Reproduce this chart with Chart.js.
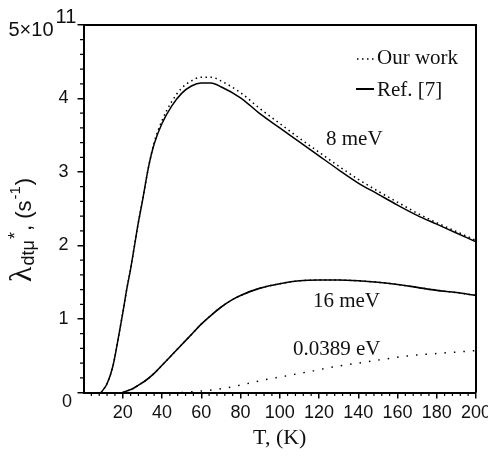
<!DOCTYPE html>
<html>
<head>
<meta charset="utf-8">
<script src="https://cdn.jsdelivr.net/npm/chart.js@4"></script>
<style>
  body { margin: 0; background: #fff; }
  canvas { display: block; }
</style>
</head>
<body>
<canvas id="rateChart" width="488" height="459"></canvas>
<script>
// temperatures (K) and rates (units of 1e11 s^-1)
const temps8 = [9, 12, 15, 18, 20, 22, 24, 26, 28, 30, 33, 36, 40, 45, 50, 55, 60, 65, 70, 80, 90, 100, 110, 120, 130, 140, 150, 160, 170, 180, 190, 200];
const ref8   = [0, 0.12, 0.36, 0.78, 1.08, 1.40, 1.68, 2.00, 2.32, 2.60, 3.05, 3.38, 3.66, 3.90, 4.07, 4.17, 4.21, 4.21, 4.16, 4.01, 3.79, 3.60, 3.41, 3.22, 3.03, 2.85, 2.70, 2.55, 2.41, 2.29, 2.17, 2.05];
const our8   = [0, 0.12, 0.36, 0.78, 1.08, 1.40, 1.68, 2.00, 2.32, 2.60, 3.05, 3.40, 3.70, 3.96, 4.14, 4.24, 4.29, 4.29, 4.24, 4.08, 3.86, 3.66, 3.46, 3.27, 3.08, 2.90, 2.74, 2.59, 2.44, 2.31, 2.19, 2.07];

const temps16 = [20, 22, 25, 28, 32, 36, 40, 45, 50, 55, 60, 65, 70, 75, 80, 90, 100, 110, 120, 130, 140, 150, 160, 170, 180, 190, 200];
const ref16   = [0, 0.02, 0.05, 0.10, 0.17, 0.26, 0.37, 0.51, 0.65, 0.79, 0.93, 1.05, 1.16, 1.25, 1.32, 1.42, 1.48, 1.52, 1.53, 1.53, 1.52, 1.50, 1.47, 1.43, 1.39, 1.36, 1.32];
const our16   = [0, 0.02, 0.05, 0.10, 0.17, 0.26, 0.37, 0.51, 0.65, 0.79, 0.93, 1.05, 1.16, 1.25, 1.32, 1.42, 1.48, 1.52, 1.53, 1.53, 1.52, 1.50, 1.47, 1.43, 1.39, 1.36, 1.32];

const temps389 = [50, 60, 70, 80, 90, 100, 110, 120, 130, 140, 150, 160, 170, 180, 190, 200];
const our389   = [0, 0.02, 0.05, 0.10, 0.16, 0.21, 0.26, 0.31, 0.36, 0.40, 0.44, 0.48, 0.51, 0.53, 0.55, 0.57];

const xTicks = [20, 40, 60, 80, 100, 120, 140, 160, 180, 200];
const yTicks = [1, 2, 3, 4];

const curveLabels = [
  { text: '8 meV', t: 138, v: 3.44 },
  { text: '16 meV', t: 134, v: 1.24 },
  { text: '0.0389 eV', t: 129, v: 0.58 }
];

const tickFont = "'Liberation Sans', Arial, sans-serif";
const serif = "'Liberation Serif', 'DejaVu Serif', serif";
const sans = "'Liberation Sans', Arial, sans-serif";

function pts(xs, ys) {
  return xs.map((x, i) => ({ x: x, y: ys[i] }));
}

const dotted = { borderDash: [1.5, 3.5], borderWidth: 1.5 };

const extras = {
  id: 'extras',
  afterDraw(chart) {
    const ctx = chart.ctx;
    const a = chart.chartArea;
    const x = chart.scales.x;
    const y = chart.scales.y;
    ctx.save();
    ctx.strokeStyle = '#000';

    // top and right frame
    ctx.lineWidth = 2;
    ctx.beginPath();
    ctx.moveTo(a.left, a.top);
    ctx.lineTo(a.right, a.top);
    ctx.lineTo(a.right, a.bottom);
    ctx.stroke();

    // minor ticks
    ctx.lineWidth = 1.2;
    ctx.beginPath();
    for (let t = 0; t <= 200; t += 4) {
      if (t % 20 === 0) continue;
      const px = x.getPixelForValue(t);
      ctx.moveTo(px, a.bottom);
      ctx.lineTo(px, a.bottom + 3.5);
    }
    for (let i = 0; i <= 25; i++) {
      if (i % 5 === 0) continue;
      const py = y.getPixelForValue(i * 0.2);
      ctx.moveTo(a.left - 3.5, py);
      ctx.lineTo(a.left, py);
    }
    ctx.stroke();

    // y labels "0" and "5x10^11"
    ctx.fillStyle = '#111';
    ctx.font = '18px ' + tickFont;
    ctx.textBaseline = 'middle';
    ctx.textAlign = 'center';
    ctx.fillText('0', a.left - 16.5, y.getPixelForValue(0) + 9.5);
    ctx.font = '20px ' + tickFont;
    ctx.textAlign = 'right';
    ctx.fillText('5\u00d710', a.left - 30, y.getPixelForValue(5) + 5.5);
    ctx.textAlign = 'left';
    ctx.fillText('11', a.left - 28, y.getPixelForValue(5) - 7.5);

    // curve labels
    ctx.font = '21px ' + serif;
    ctx.textAlign = 'center';
    curveLabels.forEach(l => {
      ctx.fillText(l.text, x.getPixelForValue(l.t), y.getPixelForValue(l.v));
    });

    // legend
    ctx.textAlign = 'left';
    ctx.fillText('Our work', a.right - 99, a.top + 33);
    ctx.fillText('Ref. [7]', a.right - 99, a.top + 65);
    ctx.lineWidth = 1.5;
    ctx.setLineDash([1.5, 3.5]);
    ctx.beginPath();
    ctx.moveTo(a.right - 119, a.top + 34);
    ctx.lineTo(a.right - 102, a.top + 34);
    ctx.stroke();
    ctx.setLineDash([]);
    ctx.lineWidth = 2;
    ctx.beginPath();
    ctx.moveTo(a.right - 120, a.top + 64);
    ctx.lineTo(a.right - 102, a.top + 64);
    ctx.stroke();

    // x title
    ctx.font = '22px ' + serif;
    ctx.textAlign = 'center';
    ctx.fillText('T, (K)', (a.left + a.right) / 2, 438);

    // y title, rotated, with sub/superscripts
    ctx.translate(31, 282);
    ctx.rotate(-Math.PI / 2);
    ctx.textAlign = 'left';
    ctx.textBaseline = 'alphabetic';
    const parts = [
      { s: '\u03bb', f: '32px ' + serif, dy: 0 },
      { s: 'dt\u03bc', f: '18px ' + sans, dy: 3 },
      { s: '*', f: '18px ' + sans, dy: -10 },
      { s: ', (s', f: '22px ' + sans, dy: 0 },
      { s: '-1', f: '15px ' + sans, dy: -11 },
      { s: ')', f: '22px ' + sans, dy: 0 }
    ];
    let cx = 0;
    parts.forEach(p => {
      ctx.font = p.f;
      ctx.fillText(p.s, cx, p.dy);
      cx += ctx.measureText(p.s).width + 1;
    });
    ctx.restore();
  }
};

new Chart(document.getElementById('rateChart'), {
  type: 'line',
  data: {
    datasets: [
      Object.assign({ label: 'Our work 8 meV', data: pts(temps8, our8) }, dotted),
      Object.assign({ label: 'Our work 16 meV', data: pts(temps16, our16) }, dotted),
      { label: 'Our work 0.0389 eV', data: pts(temps389, our389), borderDash: [1.5, 8], borderWidth: 1.5 },
      { label: 'Ref. [7] 8 meV', data: pts(temps8, ref8), borderWidth: 1.5 },
      { label: 'Ref. [7] 16 meV', data: pts(temps16, ref16), borderWidth: 1.6 }
    ]
  },
  options: {
    responsive: false,
    animation: false,
    layout: { padding: { top: 25, right: 12, left: 0, bottom: 0 } },
    elements: {
      line: { borderColor: '#000', cubicInterpolationMode: 'monotone', fill: false },
      point: { radius: 0 }
    },
    plugins: {
      legend: { display: false },
      tooltip: { enabled: false }
    },
    scales: {
      x: {
        type: 'linear',
        min: 0,
        max: 200,
        afterBuildTicks: s => { s.ticks = xTicks.map(v => ({ value: v })); },
        ticks: { color: '#111', font: { family: tickFont, size: 18 }, padding: 4, maxRotation: 0, autoSkip: false },
        grid: { drawOnChartArea: false, tickLength: 6, color: '#000', lineWidth: 1.5 },
        border: { color: '#000', width: 2 },
        afterFit: s => { s.height = 66.5; s.paddingLeft = 0; s.paddingRight = 0; }
      },
      y: {
        min: 0,
        max: 5,
        afterBuildTicks: s => { s.ticks = [0].concat(yTicks, [5]).map(v => ({ value: v })); },
        ticks: { color: '#111', font: { family: tickFont, size: 18 }, padding: 9,
                 callback: v => (v === 0 || v === 5) ? '' : v },
        grid: { drawOnChartArea: false, tickLength: 6, color: '#000', lineWidth: 1.5 },
        border: { color: '#000', width: 2 },
        afterFit: s => { s.width = 83.5; s.paddingTop = 0; s.paddingBottom = 0; }
      }
    }
  },
  plugins: [extras]
});
</script>
</body>
</html>
